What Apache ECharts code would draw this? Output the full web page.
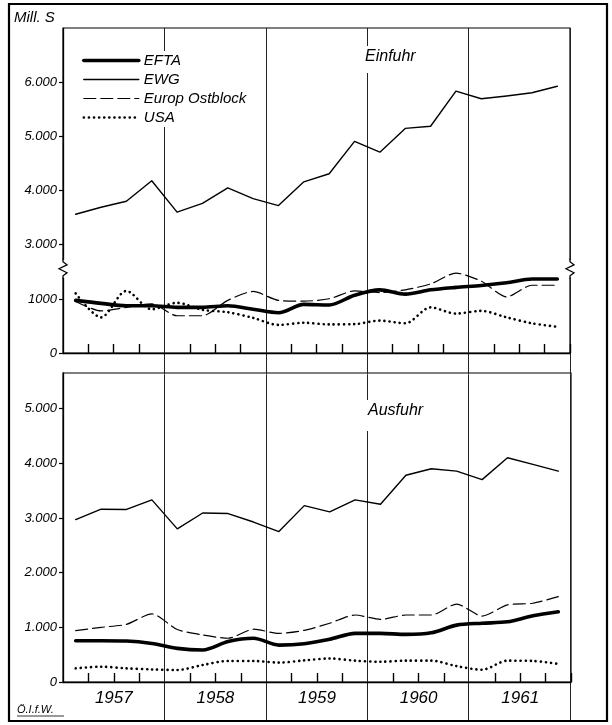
<!DOCTYPE html>
<html><head><meta charset="utf-8">
<script src="https://cdn.jsdelivr.net/npm/echarts@6.0.0/dist/echarts.min.js"></script>
<style>html,body{margin:0;padding:0;background:#fff}#c{width:612px;height:725px}</style>
</head><body><div id="c"></div>
<script>
const quarters = ['1957 I','1957 II','1957 III','1957 IV','1958 I','1958 II','1958 III','1958 IV',
  '1959 I','1959 II','1959 III','1959 IV','1960 I','1960 II','1960 III','1960 IV',
  '1961 I','1961 II','1961 III','1961 IV'];
const years = ['1957','1958','1959','1960','1961'];
const seriesNames = ['EFTA','EWG','Europ Ostblock','USA'];

const importEFTA = [975, 920, 875, 875, 845, 845, 875, 810, 745, 900, 890, 1070, 1170, 1090, 1170, 1215, 1250, 1300, 1370, 1370];
const importEWG  = [3550, 3680, 3790, 4170, 3590, 3750, 4040, 3840, 3710, 4150, 4300, 4900, 4700, 5140, 5180, 5830, 5690, 5740, 5800, 5920];
const importOst  = [955, 780, 845, 910, 690, 690, 975, 1140, 975, 960, 1005, 1150, 1120, 1170, 1280, 1480, 1330, 1040, 1255, 1255];
const importUSA  = [1105, 660, 1150, 810, 930, 800, 755, 650, 520, 560, 530, 535, 600, 550, 845, 730, 780, 660, 550, 485];

const exportEFTA = [755, 755, 750, 705, 615, 585, 740, 800, 675, 700, 780, 890, 890, 870, 900, 1040, 1075, 1100, 1210, 1285];
const exportEWG  = [2970, 3160, 3155, 3330, 2800, 3090, 3080, 2925, 2750, 3225, 3110, 3330, 3250, 3780, 3900, 3855, 3700, 4100, 3980, 3855];
const exportOst  = [940, 1000, 1055, 1245, 960, 860, 800, 965, 890, 945, 1075, 1225, 1145, 1225, 1225, 1425, 1205, 1410, 1440, 1560];
const exportUSA  = [250, 280, 250, 230, 220, 310, 385, 385, 355, 395, 430, 390, 370, 390, 390, 290, 225, 390, 385, 330];

const importTickValues = [0, 1000, 3000, 4000, 5000, 6000];
const importTickLabels = ['0', '1000', '3.000', '4.000', '5.000', '6.000'];
const exportTickValues = [0, 1000, 2000, 3000, 4000, 5000];
const exportTickLabels = ['0', '1.000', '2.000', '3.000', '4.000', '5.000'];

const FONT = 'Liberation Sans';
const chart = echarts.init(document.getElementById('c'), null, {renderer: 'canvas'});

function fmt(values, labels) {
  return function (v) { const i = values.indexOf(v); return i >= 0 ? labels[i] : ''; };
}
const styles = {
  'EFTA': {width: 3.6, type: 'solid', smooth: 0.3},
  'EWG': {width: 1.4, type: 'solid', smooth: false},
  'Europ Ostblock': {width: 1.2, type: [12, 5], smooth: 0.25},
  'USA': {width: 2.6, type: [0.1, 5], smooth: 0.3}
};
function mk(name, data, idx) {
  const s = styles[name];
  return {
    name: name, type: 'line', data: data, xAxisIndex: idx, yAxisIndex: idx,
    symbol: 'none', smooth: s.smooth,
    lineStyle: {color: '#000', width: s.width, type: s.type, cap: 'round', join: 'round'},
    itemStyle: {color: '#000'}
  };
}
const catAxis = (grid) => ({
  type: 'category', gridIndex: grid, data: quarters, boundaryGap: true, position: 'bottom',
  axisLine: {show: true, lineStyle: {color: '#000', width: 1.3}},
  axisTick: {show: true, inside: true, length: 9, interval: (i) => i % 4 !== 0, lineStyle: {color: '#000', width: 1.4}},
  axisLabel: {show: false}, splitLine: {show: false}
});
const valAxis = (grid, max, values, labels) => ({
  type: 'value', gridIndex: grid, min: 0, max: max, interval: 1000,
  axisLine: {show: true, lineStyle: {color: '#000', width: 1.3}},
  axisTick: {show: true, length: 4, customValues: values, lineStyle: {color: '#000', width: 1.2}},
  axisLabel: {customValues: values, formatter: fmt(values, labels), fontFamily: FONT, fontStyle: 'italic', fontSize: 13, color: '#000', margin: 6},
  splitLine: {show: false}
});

const yTop = valAxis(0, 7000, importTickValues, importTickLabels);
yTop.breaks = [{start: 1500, end: 2600, gap: '2%'}];
yTop.breakArea = {show: false, expandOnClick: false};

const option = {
  animation: false,
  backgroundColor: '#fff',
  title: [
    {text: 'Mill. S', left: 14, top: 10, textStyle: {fontFamily: FONT, fontStyle: 'italic', fontWeight: 'normal', fontSize: 15, color: '#000'}, padding: 0},
    {text: 'Einfuhr', left: 362, top: 46, backgroundColor: '#fff', padding: [3, 3, 8, 3], textStyle: {fontFamily: FONT, fontStyle: 'italic', fontWeight: 'normal', fontSize: 16, color: '#000'}},
    {text: 'Ausfuhr', left: 365, top: 400, backgroundColor: '#fff', padding: [3, 3, 12, 3], textStyle: {fontFamily: FONT, fontStyle: 'italic', fontWeight: 'normal', fontSize: 16, color: '#000'}},
    {text: 'Ö.I.f.W.', left: 17, top: 704, padding: 0, textStyle: {fontFamily: FONT, fontStyle: 'italic', fontWeight: 'normal', fontSize: 11, color: '#000'}}
  ],
  legend: {
    data: seriesNames, orient: 'vertical', left: 80, top: 51, itemWidth: 55, itemHeight: 10, itemGap: 4,
    backgroundColor: '#fff', padding: [2, 4, 2, 2],
    itemStyle: {opacity: 0},
    lineStyle: {width: 'inherit', type: 'inherit', color: 'inherit', cap: 'round'},
    textStyle: {fontFamily: FONT, fontStyle: 'italic', fontSize: 15, color: '#000', lineHeight: 15}, selectedMode: false
  },
  grid: [
    {left: 63, right: 42, top: 28, height: 325, show: true, borderColor: '#000', borderWidth: 1.2, backgroundColor: 'transparent'},
    {left: 63, right: 41, top: 373, height: 309, show: true, borderColor: '#000', borderWidth: 1.2, backgroundColor: 'transparent'},
    {left: 63, right: 42, top: 28, bottom: 4, show: false}
  ],
  xAxis: [
    catAxis(0),
    catAxis(1),
    {type: 'category', gridIndex: 1, data: years, position: 'bottom', axisLine: {show: false}, axisTick: {show: false},
     axisLabel: {fontFamily: FONT, fontStyle: 'italic', fontSize: 17, color: '#000', margin: 8}},
    {type: 'category', gridIndex: 2, data: quarters, boundaryGap: true, axisLine: {show: false}, axisTick: {show: false}, axisLabel: {show: false},
     splitLine: {show: true, interval: (i) => i > 0 && i % 4 === 0, lineStyle: {color: '#222', width: 1}}}
  ],
  yAxis: [
    yTop,
    valAxis(1, 5650, exportTickValues, exportTickLabels),
    {type: 'value', gridIndex: 2, min: 0, max: 1, show: false}
  ],
  series: [
    mk('EFTA', importEFTA, 0), mk('EWG', importEWG, 0), mk('Europ Ostblock', importOst, 0), mk('USA', importUSA, 0),
    mk('EFTA', exportEFTA, 1), mk('EWG', exportEWG, 1), mk('Europ Ostblock', exportOst, 1), mk('USA', exportUSA, 1)
  ]
};
chart.setOption(option);

// decorations: outer frame, break zigzags, underline
const rect0 = chart.getModel().getComponent('grid', 0).coordinateSystem.getRect();
const yb1 = chart.convertToPixel({yAxisIndex: 0}, 1500);
const yb2 = chart.convertToPixel({yAxisIndex: 0}, 2600);
const mid = (yb1 + yb2) / 2;
function zig(x) {
  return [
    {type: 'rect', shape: {x: x - 5, y: mid - 9, width: 10, height: 18}, style: {fill: '#fff'}, z: 50},
    {type: 'polyline', shape: {points: [[x, mid - 10], [x, mid - 7], [x + 4, mid - 4], [x - 4, mid], [x + 4, mid + 4], [x, mid + 7], [x, mid + 10]]},
     style: {stroke: '#000', lineWidth: 1.3, fill: null}, z: 51}
  ];
}
chart.setOption({
  graphic: [
    {type: 'rect', shape: {x: 9, y: 4, width: 598, height: 717}, style: {fill: null, stroke: '#000', lineWidth: 2.2}, z: 60},
    ...zig(rect0.x), ...zig(rect0.x + rect0.width),
    {type: 'line', shape: {x1: 17, y1: 716, x2: 64, y2: 716}, style: {stroke: '#000', lineWidth: 0.8}, z: 60}
  ]
});
</script></body></html>
